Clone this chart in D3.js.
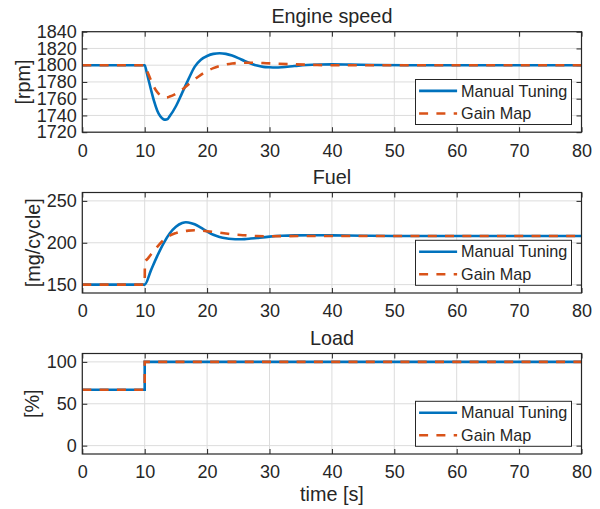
<!DOCTYPE html>
<html>
<head>
<meta charset="utf-8">
<script src="https://cdn.jsdelivr.net/npm/d3@7"></script>
<style>
	body { margin: 0; background: #fff; }
	text { font-family: 'Liberation Sans', Arial, sans-serif; fill: #262626; }
</style>
</head>
<body>
<svg id="chart" width="600" height="509"></svg>
<script>
const xTicks = [0, 10, 20, 30, 40, 50, 60, 70, 80];
const seriesNames = ['Manual Tuning', 'Gain Map'];

// Engine speed [rpm]
const speedTicks = [1720, 1740, 1760, 1780, 1800, 1820, 1840];
const speedTimeManual = [0, 10, 10.3, 10.6, 11, 11.5, 12, 12.5, 13, 13.3, 13.7, 14, 15, 16, 17, 18, 19, 20, 21, 22, 23, 24, 25, 26, 27, 28, 29, 30, 31, 32, 34, 36, 38, 40, 43, 47, 52, 80];
const speedManual = [1800, 1800, 1792, 1783, 1771, 1757, 1746, 1739, 1735.5, 1735, 1736, 1739, 1751, 1767, 1783, 1798, 1806.5, 1811, 1813.5, 1814.2, 1813.5, 1811.5, 1808.5, 1805, 1802, 1799.5, 1798, 1797.5, 1797.3, 1797.6, 1799, 1800.2, 1800.8, 1801, 1800.7, 1800.2, 1800, 1800];
const speedTimeGain = [0, 10, 10.5, 11, 11.5, 12, 12.5, 13, 13.5, 14, 15, 16, 17, 18, 19, 20, 21, 22, 23, 24, 25, 27, 29, 31, 34, 37, 40, 80];
const speedGain = [1800, 1800, 1791, 1782, 1774, 1768, 1764, 1762, 1761.5, 1762.5, 1766, 1771, 1777, 1783, 1788.5, 1793, 1796.5, 1799, 1800.8, 1802, 1802.7, 1803, 1802.6, 1801.8, 1801, 1800.4, 1800, 1800];

// Fuel [mg/cycle]
const fuelTicks = [150, 200, 250];
const fuelTimeManual = [0, 10, 11, 12, 13, 14, 15, 16, 16.6, 17, 18, 19, 20, 21, 22, 23, 24, 25, 26, 27, 28, 30, 32, 34, 37, 40, 45, 50, 60, 80];
const fuelManual = [150, 150, 167, 184, 199, 211, 219, 223.5, 224.5, 224.2, 222, 218, 213.5, 209.5, 207, 205.3, 204.4, 204.1, 204.3, 205, 205.8, 207.3, 208.3, 208.8, 209, 208.8, 208.4, 208.1, 208, 208];
const fuelTimeGain = [0, 10, 10.03, 10.5, 11, 12, 13, 14, 15, 16, 17, 18, 19, 20, 21, 22, 23, 24, 26, 28, 30, 35, 80];
const fuelGain = [150, 150, 177, 181, 186, 195, 203, 208.5, 211.5, 213.5, 214.5, 215, 214.5, 213.8, 213, 212, 211, 210, 209, 208, 207.8, 208, 208];

// Load [%]
const loadTicks = [0, 50, 100];
const loadTimeManual = [0, 10, 10, 80];
const loadManual = [66.7, 66.7, 100, 100];
const loadTimeGain = [0, 10, 10, 80];
const loadGain = [66.7, 66.7, 100, 100];

const colors = ['#0072BD', '#D95319'];
const left = 82.3;
const right = 581.5;
const panelHeight = 100.5;

const panels = [
	{ title: 'Engine speed', ylabel: '[rpm]', labelX: 24, top: 31.7, domain: [1720, 1840], ticks: speedTicks, curve: d3.curveMonotoneX,
		series: [[speedTimeManual, speedManual], [speedTimeGain, speedGain]] },
	{ title: 'Fuel', ylabel: '[mg/cycle]', labelX: 34, top: 192.5, domain: [140, 260], ticks: fuelTicks, curve: d3.curveMonotoneX,
		series: [[fuelTimeManual, fuelManual], [fuelTimeGain, fuelGain]] },
	{ title: 'Load', ylabel: '[%]', labelX: 33, top: 353.5, domain: [-10, 110], ticks: loadTicks, curve: d3.curveLinear,
		series: [[loadTimeManual, loadManual], [loadTimeGain, loadGain]] }
];

const svg = d3.select('#chart');

const xScale = d3.scaleLinear().domain([0, 80]).range([left, right]);

const styleAxis = sel => {
	sel.select('.domain').remove();
	sel.selectAll('line').attr('stroke', '#262626').attr('stroke-width', 1);
	sel.selectAll('text').attr('fill', '#262626');
	sel.attr('font-family', "'Liberation Sans', Arial, sans-serif").attr('font-size', 18);
};

const drawPanel = (p, i) => {
	const bottom = p.top + panelHeight;
	const yScale = d3.scaleLinear().domain(p.domain).range([bottom, p.top]);
	const g = svg.append('g');

	// grid
	g.selectAll('.gx').data(xTicks).enter().append('line')
		.attr('x1', d => xScale(d)).attr('x2', d => xScale(d))
		.attr('y1', p.top).attr('y2', bottom)
		.attr('stroke', '#dcdcdc').attr('stroke-width', 1);
	g.selectAll('.gy').data(p.ticks).enter().append('line')
		.attr('x1', left).attr('x2', right)
		.attr('y1', d => yScale(d)).attr('y2', d => yScale(d))
		.attr('stroke', '#dcdcdc').attr('stroke-width', 1);

	// axes with inward ticks on all sides
	g.append('g').attr('transform', `translate(0, ${bottom})`)
		.call(d3.axisBottom(xScale).tickValues(xTicks).tickSize(-5).tickPadding(11.7))
		.call(styleAxis);
	g.append('g').attr('transform', `translate(0, ${p.top})`)
		.call(d3.axisTop(xScale).tickValues(xTicks).tickSize(-5).tickFormat(''))
		.call(styleAxis);
	g.append('g').attr('transform', `translate(${left}, 0)`)
		.call(d3.axisLeft(yScale).tickValues(p.ticks).tickSize(-5).tickPadding(5.5).tickFormat(d3.format('d')))
		.call(styleAxis);
	g.append('g').attr('transform', `translate(${right}, 0)`)
		.call(d3.axisRight(yScale).tickValues(p.ticks).tickSize(-5).tickFormat(''))
		.call(styleAxis);

	// lines
	const clipId = 'clip' + i;
	svg.append('clipPath').attr('id', clipId)
		.append('rect').attr('x', left).attr('y', p.top)
		.attr('width', right - left).attr('height', panelHeight);

	const line = d3.line()
		.x(d => xScale(d[0]))
		.y(d => yScale(d[1]))
		.curve(p.curve);

	p.series.forEach((s, k) => {
		const pts = s[0].map((t, j) => [t, s[1][j]]);
		g.append('path')
			.datum(pts)
			.attr('clip-path', `url(#${clipId})`)
			.attr('fill', 'none')
			.attr('stroke', colors[k])
			.attr('stroke-width', 2.6)
			.attr('stroke-dasharray', k === 1 ? '9,8.3' : null)
			.attr('d', line);
	});

	// box
	g.append('rect')
		.attr('x', left).attr('y', p.top)
		.attr('width', right - left).attr('height', panelHeight)
		.attr('fill', 'none').attr('stroke', '#262626').attr('stroke-width', 1.2);

	// title and y label
	g.append('text')
		.attr('x', (left + right) / 2).attr('y', p.top - 9)
		.attr('text-anchor', 'middle').attr('font-size', 19.8)
		.text(p.title);
	g.append('text')
		.attr('transform', `translate(${p.labelX}, ${p.top + panelHeight / 2}) rotate(-90)`)
		.attr('dy', '0.28em')
		.attr('text-anchor', 'middle').attr('font-size', 19.8)
		.text(p.ylabel);

	// legend
	const lx = right - 10 - 156;
	const ly = bottom - 7.7 - 45;
	const legend = g.append('g').attr('transform', `translate(${lx}, ${ly})`);
	legend.append('rect').attr('width', 156).attr('height', 45)
		.attr('fill', '#fff').attr('stroke', '#262626').attr('stroke-width', 1);
	seriesNames.forEach((name, k) => {
		const cy = 11.4 + k * 22.6;
		legend.append('line')
			.attr('x1', 3.6).attr('x2', 41.6).attr('y1', cy).attr('y2', cy)
			.attr('stroke', colors[k]).attr('stroke-width', 2.6)
			.attr('stroke-dasharray', k === 1 ? '9,8.3' : null);
		legend.append('text')
			.attr('x', 45.6).attr('y', cy).attr('dy', '0.35em')
			.attr('font-size', 16.2)
			.text(name);
	});
};

panels.forEach(drawPanel);

svg.append('text')
	.attr('x', (left + right) / 2).attr('y', 501)
	.attr('text-anchor', 'middle').attr('font-size', 19.8)
	.text('time [s]');
</script>
</body>
</html>
